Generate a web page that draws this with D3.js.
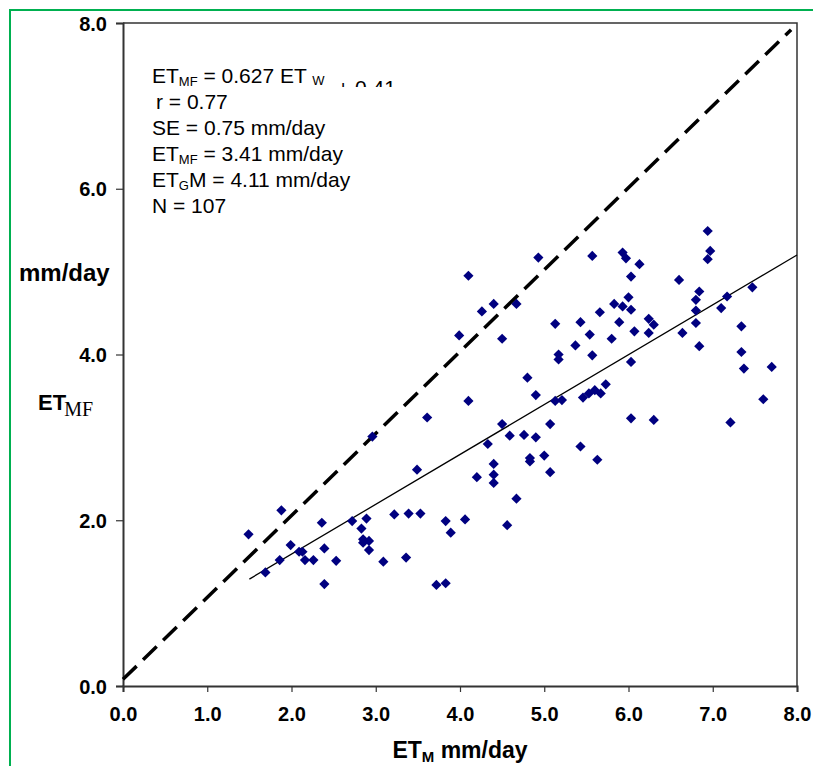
<!DOCTYPE html>
<html><head><meta charset="utf-8">
<script src="https://cdn.jsdelivr.net/npm/d3@7"></script>
<style>body{margin:0;background:#fff}svg{display:block}text{font-family:"Liberation Sans",Arial,sans-serif}</style>
</head><body>
<svg id="c" width="813" height="766"></svg>
<script>
const etM = [1.49,1.88,1.69,1.86,1.99,2.09,2.13,2.16,2.26,2.36,2.39,2.39,2.53,2.72,2.89,2.83,2.85,2.85,2.92,2.92,2.96,3.09,3.22,3.39,3.53,3.36,3.49,3.61,
 4.50,5.07,4.59,4.76,4.90,4.33,5.43,5.63,5.00,4.83,4.83,4.40,4.20,4.40,4.40,5.07,4.67,3.83,4.06,3.89,4.56,3.72,3.83,
 4.93,5.57,4.10,4.40,4.26,4.67,3.99,4.50,5.13,5.43,5.66,5.83,5.89,5.54,5.80,5.37,5.17,5.17,5.57,4.80,4.10,4.90,5.13,5.21,5.46,5.53,5.60,5.67,5.73,
 6.94,6.97,6.94,5.93,5.97,6.13,6.03,6.60,6.84,6.80,7.47,7.17,7.10,6.00,5.93,6.03,6.80,6.24,6.30,6.80,6.07,6.24,6.64,7.34,6.84,7.34,7.37,7.70,6.03,7.60,6.03,6.30,7.21];
const etMF = [1.83,2.12,1.37,1.52,1.70,1.62,1.62,1.52,1.52,1.97,1.66,1.23,1.51,1.99,2.02,1.90,1.77,1.73,1.75,1.64,3.01,1.50,2.07,2.08,2.08,1.55,2.61,3.24,
 3.16,3.16,3.02,3.03,3.00,2.92,2.89,2.73,2.78,2.75,2.71,2.68,2.52,2.55,2.45,2.58,2.26,1.99,2.01,1.85,1.94,1.22,1.24,
 5.17,5.19,4.95,4.61,4.52,4.61,4.23,4.19,4.37,4.39,4.51,4.61,4.39,4.24,4.19,4.11,4.00,3.94,3.99,3.72,3.44,3.51,3.44,3.45,3.48,3.53,3.57,3.53,3.64,
 5.49,5.25,5.15,5.23,5.16,5.09,4.94,4.90,4.76,4.66,4.81,4.70,4.56,4.69,4.58,4.54,4.53,4.43,4.36,4.38,4.28,4.26,4.26,4.34,4.10,4.03,3.83,3.85,3.91,3.46,3.23,3.21,3.18];
const axisTicks = [0,1,2,3,4,5,6,7,8];
const yTicks = [0,2,4,6,8];
const regLine = [[1.5,1.29],[8,5.20]];
const oneToOne = [[0,0.08],[7.93,7.92]];
const statLines = [
  {pre:"r = 0.77", indent:4},
  {pre:"SE = 0.75 mm/day"},
  {pre:"ET", sub:"MF", post:" = 3.41 mm/day"},
  {pre:"ET", sub:"G", post:"M = 4.11 mm/day"},
  {pre:"N = 107"}
];

const svg = d3.select("#c");
const x = d3.scaleLinear().domain([0,8]).range([123,797]);
const y = d3.scaleLinear().domain([0,8]).range([686,23]);

// outer green frame
svg.append("rect").attr("x",10).attr("y",10).attr("width",830).attr("height",800)
  .attr("fill","none").attr("stroke","#00b050").attr("stroke-width",2);

// plot frame (top & right)
svg.append("path").attr("d",`M${x(0)},${y(8)}H${x(8)}V${y(0)}`).attr("fill","none").attr("stroke","#333").attr("stroke-width",1.5);

// axes
const ya = svg.append("g").attr("transform",`translate(${x(0)},0)`)
  .call(d3.axisLeft(y).tickValues(yTicks).tickFormat(d3.format(".1f")).tickSize(7).tickPadding(9));
const xa = svg.append("g").attr("transform",`translate(0,${y(0)})`)
  .call(d3.axisBottom(x).tickValues(axisTicks).tickFormat(d3.format(".1f")).tickSize(6).tickPadding(20));
[ya,xa].forEach(g=>{
  g.select(".domain").attr("stroke","#333").attr("stroke-width",2);
  g.selectAll(".tick line").attr("stroke","#333").attr("stroke-width",1.2);
  g.selectAll(".tick text").attr("font-family","Liberation Sans, Arial").attr("font-weight","bold").attr("font-size",20).attr("fill","#000");
});
ya.selectAll(".tick text").attr("dy","0.35em");
xa.selectAll(".tick text").attr("dy","0.45em");

// lines
const line = d3.line().x(d=>x(d[0])).y(d=>y(d[1]));
svg.append("path").attr("d",line(oneToOne)).attr("fill","none").attr("stroke","#000")
  .attr("stroke-width",3.5).attr("stroke-dasharray","19,9");
svg.append("path").attr("d",line(regLine)).attr("fill","none").attr("stroke","#000").attr("stroke-width",1.3);

// points
const sym = d3.symbol().type(d3.symbolSquare).size(52);
svg.append("g").selectAll("path").data(etM.map((v,i)=>[v,etMF[i]])).join("path")
  .attr("d",sym).attr("fill","#000080")
  .attr("transform",d=>`translate(${x(d[0])},${y(d[1])}) rotate(45)`);

// annotation
const fs = 21;
const ann = svg.append("g").attr("font-size",fs).attr("fill","#000");
const t0 = ann.append("text").attr("x",152).attr("y",83);
t0.append("tspan").text("ET");
t0.append("tspan").attr("font-size",13).attr("dy",3).text("MF");
t0.append("tspan").attr("dy",-3).text(" = 0.627 ET ");
t0.append("tspan").attr("font-size",13).attr("dy",2).text("W");
svg.append("clipPath").attr("id","cl").append("rect").attr("x",330).attr("y",60).attr("width",200).attr("height",27);
ann.append("text").attr("x",337).attr("y",95).attr("clip-path","url(#cl)").text("+ 0.41");
statLines.forEach((s,i)=>{
  const t = ann.append("text").attr("x",152 + (s.indent||0)).attr("y",109+26*i);
  t.append("tspan").text(s.pre);
  if(s.sub){
    t.append("tspan").attr("font-size",13).attr("dy",3).text(s.sub);
    t.append("tspan").attr("dy",-3).text(s.post);
  }
});

// axis titles
svg.append("text").attr("x",19).attr("y",281).attr("font-weight","bold").attr("font-size",24).text("mm/day");
const yl = svg.append("text").attr("x",38).attr("y",410).attr("font-size",22);
yl.append("tspan").attr("font-weight","bold").text("ET");
yl.append("tspan").attr("font-family","Liberation Serif, Times New Roman, serif").attr("font-size",20).attr("dx",-2).attr("dy",6).text("MF");
const xl = svg.append("text").attr("x",460).attr("y",758).attr("text-anchor","middle").attr("font-weight","bold").attr("font-size",23);
xl.append("tspan").text("ET");
xl.append("tspan").attr("font-size",15).attr("dy",4).text("M");
xl.append("tspan").attr("dy",-4).text(" mm/day");
</script>
</body></html>
